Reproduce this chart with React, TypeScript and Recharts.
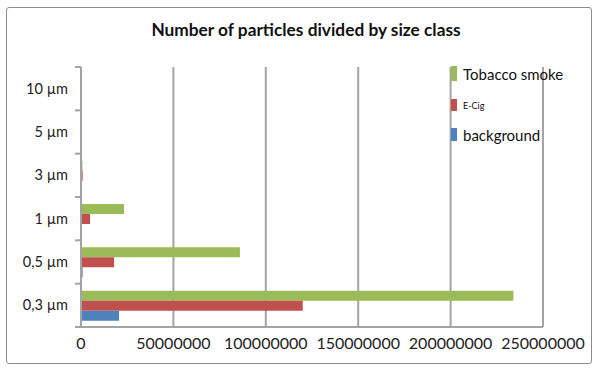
import { ReactElement } from "react";
import { BarChart, Bar, XAxis, YAxis, CartesianGrid } from "recharts";

// size classes, top to bottom as in the chart
const sizes = ["10 µm", "5 µm", "3 µm", "1 µm", "0,5 µm", "0,3 µm"];
const tobaccoSmoke = [300000, 300000, 800000, 23300000, 86000000, 234000000];
const eCig = [300000, 400000, 900000, 4900000, 17900000, 120000000];
const background = [200000, 200000, 300000, 300000, 900000, 20600000];
const xTicks = [0, 50000000, 100000000, 150000000, 200000000, 250000000];

const seriesInfo = [
  { key: "tobacco", name: "Tobacco smoke", color: "#9BBB59", fontSize: 15 },
  { key: "ecig", name: "E-Cig", color: "#C0504D", fontSize: 9 },
  { key: "background", name: "background", color: "#4F81BD", fontSize: 15 },
];

const data = sizes.map((size, i) => ({
  size,
  tobacco: tobaccoSmoke[i],
  ecig: eCig[i],
  background: background[i],
}));

const FONT = "Lato, 'Open Sans', sans-serif";
const GRID = "#a3a3a3";

function SizeTick(props: any): ReactElement {
  const { x, y, payload, index } = props;
  const half = payload.offset || 21.6;
  const axisX = x + 5;
  return (
    <g>
      <text
        x={axisX - 13}
        y={y}
        dy={5}
        textAnchor="end"
        fontSize={14.5}
        fontFamily={FONT}
        fill="#222"
      >
        {payload.value}
      </text>
      <line x1={axisX - 6} x2={axisX} y1={y + half} y2={y + half} stroke={GRID} strokeWidth={2} />
      {index === 0 && (
        <line x1={axisX - 6} x2={axisX} y1={y - half} y2={y - half} stroke={GRID} strokeWidth={2} />
      )}
    </g>
  );
}

function ChartLegend(): ReactElement {
  const rows = [
    { top: 0, h: 15 },
    { top: 33, h: 12 },
    { top: 62, h: 13 },
  ];
  return (
    <div
      style={{
        position: "absolute",
        left: 451,
        top: 66,
        width: 140,
        height: 80,
        fontFamily: FONT,
      }}
    >
      {seriesInfo.map((s, i) => (
        <div key={s.key}>
          <div
            style={{
              position: "absolute",
              left: 0,
              top: rows[i].top,
              width: 6,
              height: rows[i].h,
              background: s.color,
            }}
          />
          <div
            style={{
              position: "absolute",
              left: 12,
              top: rows[i].top + rows[i].h / 2,
              transform: "translateY(-50%)",
              fontSize: s.fontSize,
              color: "#111",
              whiteSpace: "nowrap",
              lineHeight: 1,
            }}
          >
            {s.name}
          </div>
        </div>
      ))}
    </div>
  );
}

export default function App(): ReactElement {
  return (
    <div
      style={{
        position: "absolute",
        left: 0,
        top: 0,
        width: 600,
        height: 370,
        background: "#fff",
      }}
    >
      <div
        style={{
          position: "absolute",
          left: 6,
          top: 7,
          width: 584,
          height: 355,
          border: "1px solid #8c8c8c",
          borderRadius: 3,
        }}
      />
      <div
        style={{
          position: "absolute",
          left: 0,
          top: 19,
          width: 612,
          textAlign: "center",
          fontFamily: FONT,
          fontWeight: 700,
          fontSize: 17.3,
          color: "#111",
        }}
      >
        Number of particles divided by size class
      </div>
      <BarChart
        width={600}
        height={370}
        data={data}
        layout="vertical"
        margin={{ top: 67, right: 57, bottom: 12, left: 10 }}
        barCategoryGap={7}
        barGap={0}
        style={{ position: "absolute", left: 0, top: 0 }}
      >
        <CartesianGrid horizontal={false} stroke={GRID} strokeWidth={2} />
        <XAxis
          type="number"
          domain={[0, 250000000]}
          ticks={xTicks}
          tickLine={false}
          axisLine={{ stroke: GRID, strokeWidth: 2 }}
          tick={{ fontSize: 16, fontFamily: FONT, fill: "#222" }}
          tickMargin={5}
          height={31}
          interval={0}
        />
        <YAxis
          type="category"
          dataKey="size"
          width={71}
          tickLine={false}
          tickSize={5}
          tickMargin={0}
          axisLine={{ stroke: GRID, strokeWidth: 2 }}
          tick={<SizeTick />}
          interval={0}
        />
        {seriesInfo.map((s) => (
          <Bar
            key={s.key}
            dataKey={s.key}
            name={s.name}
            fill={s.color}
            isAnimationActive={false}
          />
        ))}
      </BarChart>
      <ChartLegend />
    </div>
  );
}
